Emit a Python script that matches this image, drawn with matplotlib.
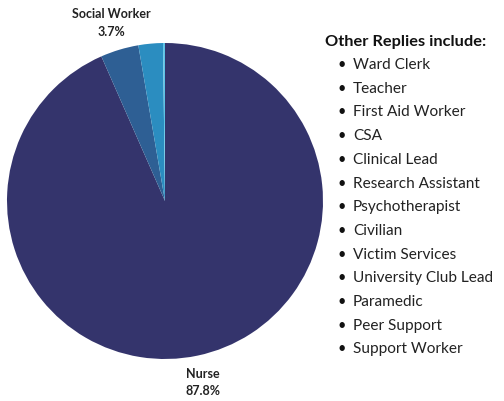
import matplotlib
matplotlib.use("Agg")
import matplotlib.pyplot as plt
import numpy as np

# Data (slice shares as drawn, clockwise from 12 o'clock)
categories = ["Nurse", "Social Worker", "Other", "Other (small)"]
shares = [93.4, 3.9, 2.5, 0.2]
label_texts = {"Nurse": "87.8%", "Social Worker": "3.7%"}
colors = ["#34346C", "#2E5F94", "#2B8DC0", "#5CC3E6"]

other_title = "Other Replies include:"
other_replies = ["Ward Clerk", "Teacher", "First Aid Worker", "CSA", "Clinical Lead",
                 "Research Assistant", "Psychotherapist", "Civilian", "Victim Services",
                 "University Club Lead", "Paramedic", "Peer Support", "Support Worker"]

W, H = 504, 401
fig = plt.figure(figsize=(W / 100, H / 100), dpi=100)
plt.rcParams['font.family'] = ['Lato', 'DejaVu Sans']

# pie axes: center (165,201), radius 158 px
cx, cy, r = 165, 201, 158
ax = fig.add_axes([(cx - r) / W, 1 - (cy + r) / H, 2 * r / W, 2 * r / H])
wedges, _ = ax.pie(shares, colors=colors, startangle=90, counterclock=False,
                   wedgeprops=dict(linewidth=0))
ax.set_xlim(-1, 1)
ax.set_ylim(-1, 1)
ax.set_aspect('equal')
ax.axis('off')

for w, cat in zip(wedges, categories):
    if cat not in label_texts:
        continue
    th = np.deg2rad((w.theta1 + w.theta2) / 2)
    rr = 1.175
    x, y = rr * np.cos(th), rr * np.sin(th)
    ax.text(x, y, f"{cat}\n{label_texts[cat]}", ha='center', va='center',
            fontsize=9, fontweight='bold', color='#222222', linespacing=1.55,
            clip_on=False)

def fx(px):
    return px / W

def fy(py):
    return 1 - py / H

fig.text(fx(325), fy(42), other_title, ha='left', va='center', fontsize=11.8,
         fontweight='bold', color='#111111')
for i, item in enumerate(other_replies):
    y = 65 + i * 23.7
    fig.text(fx(342), fy(y), "\u2022", ha='center', va='center', fontsize=10.5, color='#111111')
    fig.text(fx(353), fy(y), item, ha='left', va='center', fontsize=11.1, color='#222222')

fig.savefig("out.png", dpi=100)
